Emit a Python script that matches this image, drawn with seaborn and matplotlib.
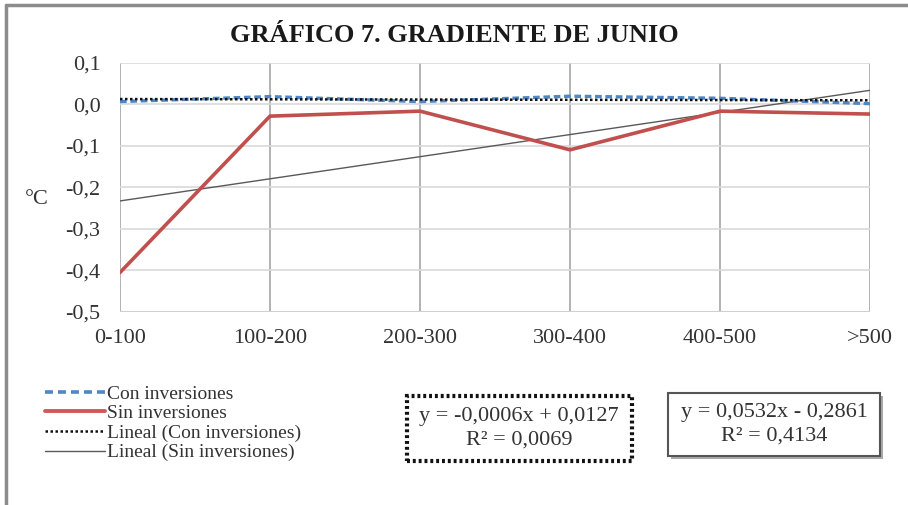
import numpy as np
import pandas as pd
import matplotlib
matplotlib.use("Agg")
import matplotlib.pyplot as plt
import seaborn as sns
from matplotlib.patches import Rectangle
from matplotlib.lines import Line2D
from matplotlib.ticker import FuncFormatter

# ---- data ----
categories = ["0-100", "100-200", "200-300", "300-400", "400-500", ">500"]
con_inversiones = [0.006, 0.018, 0.006, 0.019, 0.014, 0.001]
sin_inversiones = [-0.405, -0.029, -0.017, -0.110, -0.017, -0.024]
trend_con = (-0.0006, 0.0127)   # slope, intercept (x = 1..6)
trend_sin = (0.0532, -0.2861)
eq_con = ["y = -0,0006x + 0,0127", "R² = 0,0069"]
eq_sin = ["y = 0,0532x - 0,2861", "R² = 0,4134"]
title = "GRÁFICO 7. GRADIENTE DE JUNIO"
ylabel = "°C"
series_names = ["Con inversiones", "Sin inversiones",
                "Lineal (Con inversiones)", "Lineal (Sin inversiones)"]

sns.set_theme(style="white")
plt.rcParams["font.family"] = ["Liberation Serif", "DejaVu Serif"]

W, H = 908, 505
fig = plt.figure(figsize=(W / 100, H / 100), dpi=100)
ax = fig.add_axes([120 / W, 1 - 312 / H, 750 / W, (312 - 62.5) / H])

x = np.arange(len(categories))
df = pd.DataFrame({
    "x": np.concatenate([x, x]),
    "value": con_inversiones + sin_inversiones,
    "serie": [series_names[0]] * len(x) + [series_names[1]] * len(x),
})

BLUE = "#4f86c6"
RED = "#c0504d"
blue_ls = (0, (2.0, 1.1))

# grid first
for xi in x:
    ax.axvline(xi, color="#a6a6a6", lw=1.2, zorder=0)
for yv in np.arange(-0.5, 0.11, 0.1):
    ax.axhline(yv, color="#d9d9d9", lw=1.2, zorder=0)

sns.lineplot(data=df[df.serie == series_names[1]], x="x", y="value",
             color=RED, lw=2.6, ax=ax, legend=False, zorder=3)
sns.lineplot(data=df[df.serie == series_names[0]], x="x", y="value",
             color=BLUE, lw=2.4, ax=ax, legend=False, zorder=4,
             linestyle=blue_ls)

xt = x + 1
ax.plot(x, trend_sin[0] * xt + trend_sin[1], color="#595959", lw=1.0, zorder=2)
ax.plot(x, trend_con[0] * xt + trend_con[1], color="#111111", lw=1.8,
        linestyle=(0, (1, 1)), zorder=5)

ax.set_xlim(0, len(categories) - 1)
ax.set_ylim(-0.5, 0.1)
ax.set_xticks(x)
ax.set_xticklabels(categories)
ax.set_yticks(np.round(np.arange(-0.5, 0.11, 0.1), 1))
ax.yaxis.set_major_formatter(FuncFormatter(lambda v, p: f"{v:.1f}".replace(".", ",").replace("-0,0", "0,0")))
ax.tick_params(axis="both", labelsize=16, colors="#333333", length=0)
ax.tick_params(axis="y", pad=14)
ax.tick_params(axis="x", pad=12)
ax.set_xlabel("")
ax.set_ylabel("")
for s in ax.spines.values():
    s.set_visible(False)
ax.axhline(-0.5, color="#d0d0d0", lw=1.5, zorder=1)

fig.text(37 / W, 1 - 200 / H, ylabel, fontsize=16, color="#333333",
         ha="center", va="center")
fig.text(454 / W, 1 - 35 / H, title, fontsize=19, fontweight="bold",
         ha="center", va="center", color="#1a1a1a")

# legend
handles = [
    Line2D([], [], color=BLUE, lw=2.6, linestyle=(0, (2.2, 1.4))),
    Line2D([], [], color="#d05a57", lw=2.8),
    Line2D([], [], color="#111111", lw=1.8, linestyle=(0, (1, 1))),
    Line2D([], [], color="#595959", lw=1.0),
]
fig.legend(handles, series_names, loc="upper left",
           bbox_to_anchor=(45 / W, 1 - 385 / H), frameon=False,
           fontsize=14, handlelength=3.1, handletextpad=0.1,
           labelspacing=0.1, borderpad=0, borderaxespad=0,
           labelcolor="#333333")

# equation boxes
box1 = Rectangle((407 / W, 1 - 461 / H), 225 / W, 65 / H, transform=fig.transFigure,
                 fill=False, edgecolor="#111111", lw=3, linestyle=(0, (0.7, 0.7)))
fig.add_artist(box1)
fig.text(519 / W, 1 - 417 / H, eq_con[0], fontsize=16, ha="center", va="center", color="#333333")
fig.text(519 / W, 1 - 440 / H, eq_con[1], fontsize=16, ha="center", va="center", color="#333333")

shadow = Rectangle((671 / W, 1 - 459 / H), 212 / W, 63 / H, transform=fig.transFigure,
                   fill=True, facecolor="#aaaaaa", edgecolor="none")
fig.add_artist(shadow)
box2 = Rectangle((668 / W, 1 - 456 / H), 212 / W, 63 / H, transform=fig.transFigure,
                 facecolor="white", edgecolor="#555555", lw=1.5)
fig.add_artist(box2)
fig.text(774 / W, 1 - 412 / H, eq_sin[0], fontsize=16, ha="center", va="center", color="#333333")
fig.text(774 / W, 1 - 436 / H, eq_sin[1], fontsize=16, ha="center", va="center", color="#333333")

# outer frame (left & top)
fig.add_artist(Line2D([6 / W, 6 / W], [0, 1 - 5 / H], transform=fig.transFigure,
                      color="#8c8c8c", lw=2.5))
fig.add_artist(Line2D([6 / W, 1], [1 - 5 / H, 1 - 5 / H], transform=fig.transFigure,
                      color="#8c8c8c", lw=2.5))

fig.savefig("out.png", dpi=100)
